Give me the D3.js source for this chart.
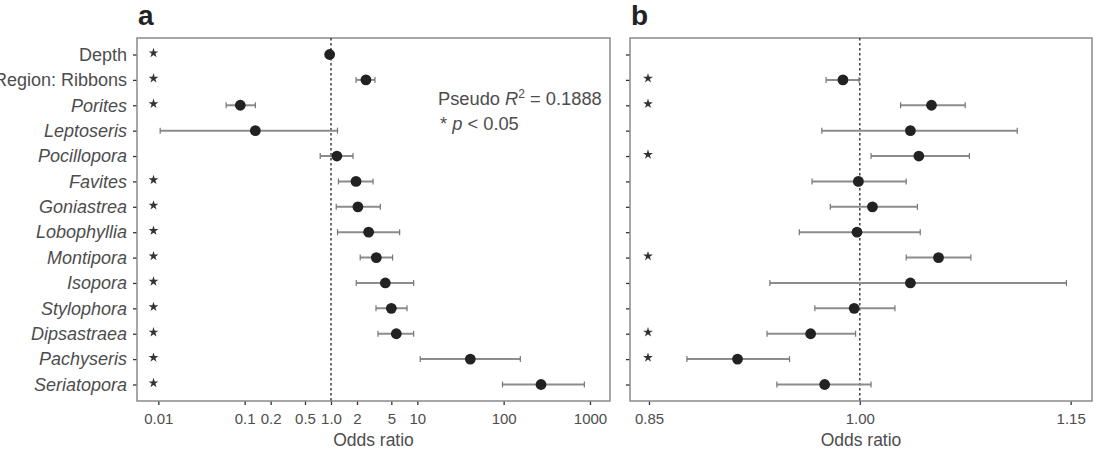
<!DOCTYPE html>
<html>
<head>
<meta charset="utf-8">
<script src="https://cdn.jsdelivr.net/npm/d3@7"></script>
<style>
  body { margin: 0; background: #fff; }
  svg { display: block; font-family: "Liberation Sans", Arial, Helvetica, sans-serif; }
</style>
</head>
<body>
<svg id="chart" width="1101" height="451"></svg>
<script>
// predictors, top to bottom
var categories = ["Depth", "Region: Ribbons", "Porites", "Leptoseris", "Pocillopora", "Favites",
  "Goniastrea", "Lobophyllia", "Montipora", "Isopora", "Stylophora", "Dipsastraea", "Pachyseris", "Seriatopora"]
var italicCats = categories.slice(2)

// panel a: odds ratio + 95% CI
var orA = [0.965, 2.54, 0.089, 0.133, 1.17, 1.95, 2.05, 2.73, 3.35, 4.26, 5.0, 5.71, 41.1, 271]
var loA = [0.955, 1.95, 0.061, 0.0105, 0.75, 1.22, 1.15, 1.19, 2.18, 1.96, 3.32, 3.5, 10.8, 97]
var hiA = [0.975, 3.23, 0.133, 1.19, 1.80, 3.07, 3.73, 6.24, 5.17, 9.06, 7.6, 9.06, 156, 861]
var sigA = [1, 1, 1, 0, 0, 1, 1, 1, 1, 1, 1, 1, 1, 1]
var ticksA = [0.01, 0.1, 0.2, 0.5, 1, 2, 5, 10, 100, 1000]
var tickLabelsA = ["0.01", "0.1", "0.2", "0.5", "1.0", "2", "5", "10", "100", "1000"]

// panel b (no depth estimate)
var orB = [null, 0.988, 1.051, 1.036, 1.042, 0.999, 1.009, 0.998, 1.056, 1.036, 0.996, 0.965, 0.913, 0.975]
var loB = [null, 0.976, 1.029, 0.973, 1.008, 0.966, 0.979, 0.957, 1.033, 0.936, 0.968, 0.934, 0.877, 0.941]
var hiB = [null, 0.9995, 1.075, 1.112, 1.078, 1.033, 1.041, 1.043, 1.079, 1.147, 1.025, 0.997, 0.950, 1.008]
var sigB = [0, 1, 1, 0, 1, 0, 0, 0, 1, 0, 0, 1, 1, 0]
var ticksB = [0.85, 1.00, 1.15]

var svg = d3.select("#chart")
var plotTop = 38, plotBottom = 401
var textCol = "#4d4d4d", frameCol = "#8a8a8a"

var y = d3.scalePoint().domain(categories).range([plotTop, plotBottom]).padding(0.65)

var xA = d3.scaleLog().domain([0.00566, 1706]).range([137, 610])
var xB = d3.scaleLinear().domain([0.8365, 1.1652]).range([630, 1092])

function rowsFor(or, lo, hi, sig) {
  return categories.map(function(c, i) {
    return {cat: c, or: or[i], lo: lo[i], hi: hi[i], sig: sig[i]}
  })
}

function draw_panel(x, rows, ticks, tickFmt, letter, showLabels, starX) {
  var x0 = x.range()[0], x1 = x.range()[1]
  var g = svg.append("g")

  // x axis
  var ax = g.append("g").attr("transform", "translate(0," + plotBottom + ")")
    .call(d3.axisBottom(x).tickValues(ticks).tickFormat(tickFmt).tickSize(4).tickPadding(8))
  ax.select(".domain").remove()
  ax.selectAll("line").attr("stroke", "#333").attr("stroke-width", 1.3)
  ax.selectAll("text").attr("fill", textCol).style("font-size", "15px")

  // y axis
  var ay = g.append("g").attr("transform", "translate(" + x0 + ",0)")
    .call(d3.axisLeft(y).tickSize(4).tickPadding(6))
  ay.select(".domain").remove()
  ay.selectAll("line").attr("stroke", "#333").attr("stroke-width", 1.3)
  ay.selectAll("text").attr("fill", textCol).style("font-size", "18px")
    .style("font-style", function(d) { return italicCats.indexOf(d) != -1 ? "italic" : "normal" })
    .style("visibility", showLabels ? "visible" : "hidden")

  // frame
  g.append("rect").attr("x", x0).attr("y", plotTop).attr("width", x1 - x0).attr("height", plotBottom - plotTop)
    .attr("fill", "none").attr("stroke", frameCol).attr("stroke-width", 1.5)

  // reference line at OR = 1
  g.append("line").attr("x1", x(1)).attr("x2", x(1)).attr("y1", plotTop).attr("y2", plotBottom)
    .attr("stroke", "#333").attr("stroke-width", 1.4).attr("stroke-dasharray", "2.5,2.5")

  var data = rows.filter(function(d) { return d.or != null })

  // CI bars
  g.selectAll(".ci").data(data).enter().append("line")
    .attr("x1", function(d) { return x(d.lo) }).attr("x2", function(d) { return x(d.hi) })
    .attr("y1", function(d) { return y(d.cat) }).attr("y2", function(d) { return y(d.cat) })
    .attr("stroke", "#8c8c8c").attr("stroke-width", 2)
  ;["lo", "hi"].forEach(function(k) {
    g.selectAll(".cap-" + k).data(data).enter().append("line")
      .attr("x1", function(d) { return x(d[k]) }).attr("x2", function(d) { return x(d[k]) })
      .attr("y1", function(d) { return y(d.cat) - 3 }).attr("y2", function(d) { return y(d.cat) + 3 })
      .attr("stroke", "#777").attr("stroke-width", 1.2)
  })

  // points
  g.selectAll(".pt").data(data).enter().append("circle")
    .attr("cx", function(d) { return x(d.or) }).attr("cy", function(d) { return y(d.cat) })
    .attr("r", 5.4).attr("fill", "#222")

  // significance stars
  g.selectAll(".star").data(rows.filter(function(d) { return d.sig })).enter().append("path")
    .attr("d", d3.symbol().type(d3.symbolStar).size(30))
    .attr("transform", function(d) { return "translate(" + starX + "," + (y(d.cat) - 1.5) + ")" })
    .attr("fill", "#333")

  // axis title and panel letter
  g.append("text").attr("x", (x0 + x1) / 2).attr("y", 446).attr("text-anchor", "middle")
    .attr("fill", textCol).style("font-size", "17.5px").text("Odds ratio")
  g.append("text").attr("x", x0 + 1).attr("y", 25).attr("fill", "#222")
    .style("font-size", "28px").style("font-weight", "bold").text(letter)
  return g
}

var gA = draw_panel(xA, rowsFor(orA, loA, hiA, sigA), ticksA,
  function(d, i) { return tickLabelsA[i] }, "a", true, 153.5)
draw_panel(xB, rowsFor(orB, loB, hiB, sigB), ticksB, d3.format(".2f"), "b", false, 648)

// annotation in panel a
var note = gA.append("text").attr("x", 438).attr("y", 105).attr("fill", textCol).style("font-size", "18.3px")
note.append("tspan").text("Pseudo ")
note.append("tspan").style("font-style", "italic").text("R")
note.append("tspan").attr("dy", -7).style("font-size", "12px").text("2")
note.append("tspan").attr("dy", 7).text(" = 0.1888")
var note2 = gA.append("text").attr("x", 440).attr("y", 130).attr("fill", textCol).style("font-size", "18.3px")
note2.append("tspan").text("* ")
note2.append("tspan").style("font-style", "italic").text("p")
note2.append("tspan").text(" < 0.05")
</script>
</body>
</html>
